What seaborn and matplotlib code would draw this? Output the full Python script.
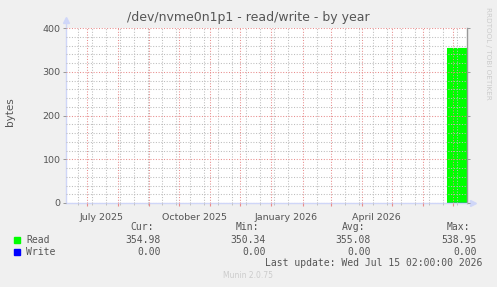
import matplotlib
matplotlib.use("Agg")
import matplotlib.pyplot as plt
import matplotlib.dates as mdates
from matplotlib.ticker import MultipleLocator, NullFormatter, FixedLocator
from matplotlib.patches import Rectangle
import seaborn as sns
import pandas as pd

# ---- data ----
title = "/dev/nvme0n1p1 - read/write - by year"
y_label = "bytes"
read_dates = ["2026-06-25 00:00", "2026-07-15 02:00"]
read_values = [355.0, 355.0]
write_dates = ["2026-06-25 00:00", "2026-07-15 02:00"]
write_values = [0.0, 0.0]
x_start = "2025-06-10 02:00"
x_end = "2026-07-15 02:00"
y_max = 400
month_labels = ["July 2025", "October 2025", "January 2026", "April 2026"]
month_label_dates = ["2025-07-16", "2025-10-16", "2026-01-16", "2026-04-16"]
legend_names = ["Read", "Write"]
legend_colors = ["#00FF00", "#0000FF"]
cur_vals = ["354.98", "0.00"]
min_vals = ["350.34", "0.00"]
avg_vals = ["355.08", "0.00"]
max_vals = ["538.95", "0.00"]
last_update = "Last update: Wed Jul 15 02:00:00 2026"
version = "Munin 2.0.75"
watermark = "RRDTOOL / TOBI OETIKER"

# ---- style ----
sns.set_style("white")
plt.rcParams['font.family'] = ['DejaVu Sans']
plt.rcParams['lines.scale_dashes'] = False

W, H = 497, 287
fig = plt.figure(figsize=(W / 100, H / 100), dpi=100, facecolor='#F0F0F0')
ax = fig.add_axes([66 / W, 84 / H, 401 / W, 175 / H])
ax.set_facecolor('white')

df_read = pd.DataFrame({'date': pd.to_datetime(read_dates, format='ISO8601'),
                        'value': read_values})
df_write = pd.DataFrame({'date': pd.to_datetime(write_dates, format='ISO8601'),
                         'value': write_values})

ax.fill_between(df_read['date'], 0, df_read['value'], color=legend_colors[0],
                linewidth=0, zorder=1)
sns.lineplot(data=df_read, x='date', y='value', color=legend_colors[0], lw=0.8,
             ax=ax, zorder=1)
sns.lineplot(data=df_write, x='date', y='value', color=legend_colors[1], lw=1,
             ax=ax, zorder=1)

ax.set_xlim(pd.Timestamp(x_start), pd.Timestamp(x_end))
ax.set_ylim(0, y_max)
ax.set_xlabel("")
ax.set_ylabel("")

ax.xaxis.set_major_locator(mdates.MonthLocator())
minor_x = mdates.date2num(pd.date_range("2025-06-22", x_end, freq="14D"))
ax.xaxis.set_minor_locator(FixedLocator(minor_x))
ax.xaxis.set_major_formatter(NullFormatter())
ax.yaxis.set_major_locator(MultipleLocator(100))
ax.yaxis.set_minor_locator(MultipleLocator(20))

ax.set_axisbelow(False)
dot = (0, (0.75, 1.2))
ax.grid(which='major', color='#E88C8C', linestyle=dot, linewidth=0.75)
ax.grid(which='minor', color='#BDBDBD', linestyle=dot, linewidth=0.75)

ax.tick_params(axis='x', which='major', length=2.5, color='#E88C8C', width=0.8,
               direction='out', bottom=True)
ax.tick_params(axis='x', which='minor', length=1.5, color='#BBBBBB', width=0.6,
               bottom=True)
ax.tick_params(axis='y', which='major', length=2, color='#999999', width=0.7,
               left=True, right=True, labelsize=6.8, labelcolor='#555555', pad=2)
ax.tick_params(axis='y', which='minor', length=0)

ax.spines['top'].set_visible(False)
ax.spines['left'].set_color('#CFD6F8')
ax.spines['bottom'].set_color('#CFD6F8')
ax.spines['right'].set_color('#999999')
for s in ['left', 'bottom', 'right']:
    ax.spines[s].set_linewidth(1)

# axis arrows
ax.plot([0, 0], [1, 1.045], transform=ax.transAxes, color='#CFD6F8', lw=1,
        clip_on=False)
ax.plot([0], [1.045], transform=ax.transAxes, marker='^', color='#CFD6F8',
        markersize=5, clip_on=False)
ax.plot([1, 1.015], [0, 0], transform=ax.transAxes, color='#CFD6F8', lw=1,
        clip_on=False)
ax.plot([1.015], [0], transform=ax.transAxes, marker='>', color='#CFD6F8',
        markersize=5, clip_on=False)

# month labels
for lab, d in zip(month_labels, month_label_dates):
    ax.text(pd.Timestamp(d), -0.055, lab, transform=ax.get_xaxis_transform(),
            ha='center', va='top', fontsize=6.8, color='#555555')

# titles
fig.text(248.5 / W, 1 - 17 / H, title, ha='center', va='center', fontsize=9,
         color='#555555')
fig.text(10 / W, 1 - 112 / H, y_label, rotation=90, ha='center', va='center',
         fontsize=7.5, color='#555555')
fig.text(488 / W, 1 - 53 / H, watermark, rotation=270, ha='center', va='center',
         fontsize=5.2, color='#CCCCCC')

mono = dict(family='DejaVu Sans Mono', fontsize=7, color='#555555')
hy = 1 - 227 / H
fig.text(154 / W, hy, "Cur:", ha='right', va='center', **mono)
fig.text(259 / W, hy, "Min:", ha='right', va='center', **mono)
fig.text(365 / W, hy, "Avg:", ha='right', va='center', **mono)
fig.text(470 / W, hy, "Max:", ha='right', va='center', **mono)

rows_y = [240, 252]
for i, name in enumerate(legend_names):
    yy = 1 - rows_y[i] / H
    fig.add_artist(Rectangle((14 / W, 1 - (rows_y[i] + 3) / H), 6 / W, 6 / H,
                             transform=fig.transFigure, color=legend_colors[i]))
    fig.text(26 / W, yy, name, ha='left', va='center', **mono)
    fig.text(161 / W, yy, cur_vals[i], ha='right', va='center', **mono)
    fig.text(266 / W, yy, min_vals[i], ha='right', va='center', **mono)
    fig.text(371 / W, yy, avg_vals[i], ha='right', va='center', **mono)
    fig.text(477 / W, yy, max_vals[i], ha='right', va='center', **mono)

fig.text(482 / W, 1 - 263 / H, last_update, ha='right', va='center', **mono)
fig.text(248 / W, 1 - 276 / H, version, ha='center', va='center',
         fontsize=5.5, color='#CCCCCC')

fig.savefig("out.png", dpi=100, facecolor=fig.get_facecolor())
